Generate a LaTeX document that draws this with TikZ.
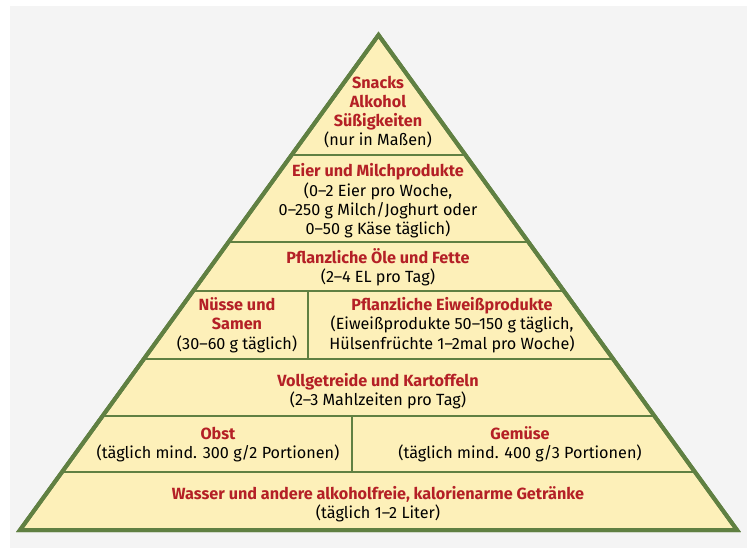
\documentclass[tikz,border=0pt]{standalone}
\usepackage{fontspec}
\setmainfont{Fira Sans}
\usepackage{tikz}
\usetikzlibrary{calc}
\usepackage{xcolor}

\definecolor{hellgelb}{RGB}{253,240,185}
\definecolor{gruen}{RGB}{96,128,66}
\definecolor{rot}{RGB}{180,32,38}
\definecolor{hellgrau}{RGB}{244,244,244}

\newcommand{\tl}[1]{\textcolor{rot}{\bfseries #1}}

\begin{document}
\begin{tikzpicture}[
x=1pt, y=-1pt,
stufe/.style={align=center, inner sep=0pt, text=black, font=\fontsize{16.2}{19.3}\selectfont},
linie/.style={draw=gruen, line width=2pt},
rand/.style={draw=gruen, line width=4pt, line join=miter, fill=hellgelb},
]

\useasboundingbox (0,0) rectangle (747,548);
\fill[white] (0,0) rectangle (747,548);
\fill[hellgrau] (10,6) rectangle (747,548);

%Pyramid
\coordinate (spitze) at (378.5,35);
\coordinate (links) at (20,530);
\coordinate (rechts) at (737,530);
\filldraw[rand] (spitze) -- (links) -- (rechts) -- cycle;

%Levels
\foreach \t/\n in {0.2424/a, 0.4182/b, 0.5172/c, 0.6545/d, 0.7697/e, 0.8828/f}{
  \coordinate (l\n) at ($(spitze)!\t!(links)$);
  \coordinate (r\n) at ($(spitze)!\t!(rechts)$);
  \draw[linie] (l\n) -- (r\n);
}
\coordinate (t1o) at (308,291);
\coordinate (t1u) at (308,359);
\coordinate (t2o) at (352,416);
\coordinate (t2u) at (352,472);
\draw[linie] (t1o) -- (t1u);
\draw[linie] (t2o) -- (t2u);
\draw[draw=gruen, line width=4pt, line join=miter] (spitze) -- (links) -- (rechts) -- cycle;

%Nodes
\node[stufe] at (378,112) (snacks) {\tl{Snacks}\\ \tl{Alkohol}\\ \tl{Süßigkeiten}\\ (nur in Maßen)};
\node[stufe] at (378,201) (eier) {\tl{Eier und Milchprodukte}\\ (0--2 Eier pro Woche,\\ 0--250 g Milch/Joghurt oder\\ 0--50 g Käse täglich)};
\node[stufe] at (378,267.5) (oele) {\tl{Pflanzliche Öle und Fette}\\ (2--4 EL pro Tag)};
\node[stufe] at (237,325) (nuesse) {\tl{Nüsse und}\\ \tl{Samen}\\ (30--60 g täglich)};
\node[stufe] at (452,325) (eiweiss) {\tl{Pflanzliche Eiweißprodukte}\\ (Eiweißprodukte 50--150 g täglich,\\ Hülsenfrüchte 1--2mal pro Woche)};
\node[stufe] at (378,391) (getreide) {\tl{Vollgetreide und Kartoffeln}\\ (2--3 Mahlzeiten pro Tag)};
\node[stufe] at (218,444.5) (obst) {\tl{Obst}\\ (täglich mind. 300 g/2 Portionen)};
\node[stufe] at (520,444.5) (gemuese) {\tl{Gemüse}\\ (täglich mind. 400 g/3 Portionen)};
\node[stufe] at (378,504) (wasser) {\tl{Wasser und andere alkoholfreie, kalorienarme Getränke}\\ (täglich 1--2 Liter)};

\end{tikzpicture}
\end{document}
